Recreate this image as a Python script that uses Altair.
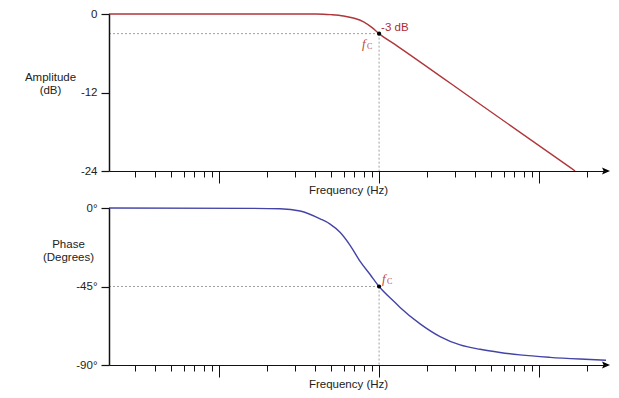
import altair as alt
import pandas as pd

# ---------------- data ----------------
FMIN, FMAX = 0.0205, 26.2

freq_amp = [0.0205, 0.40, 0.45, 0.5, 0.6, 0.7, 0.8, 0.9, 1.0, 1.3, 4.28, 16.8]
amp_db = [0.0, 0.0, -0.03, -0.1, -0.3, -0.65, -1.2, -2.05, -3.0, -4.9, -13.8, -24.0]

freq_phase = [0.0205, 0.156, 0.240, 0.321, 0.428, 0.494, 0.570, 0.659, 0.761,
              0.879, 1.0, 1.259, 1.353, 1.804, 2.405, 3.21, 4.28, 5.70, 7.60,
              11.7, 18.0, 26.2]
phase_deg = [0.0, -0.2, -0.4, -1.7, -6.2, -9.2, -13.9, -21.4, -30.6,
             -38.1, -45.0, -54.2, -57.0, -66.4, -73.7, -78.5, -81.0, -82.8, -84.2,
             -85.6, -86.6, -87.3]

x_ticks = [0.03, 0.04, 0.05, 0.06, 0.07, 0.08, 0.09, 0.1,
           0.2, 0.3, 0.4, 0.5, 0.6, 0.7, 0.8, 0.9, 1,
           2, 3, 4, 5, 6, 7, 8, 9, 10, 20]
amp_ticks = [0, -12, -24]
phase_ticks = [0, -45, -90]

fc = 1.0
amp_cut = -3.0
phase_cut = -45.0
amp_min = -24
phase_min = -90

# ---------------- styles ----------------
RED = "#b0363a"
RED_TXT = "#b02a2e"
FC_RED = "#c04848"
BLUE = "#4444a8"
FONT = "Liberation Sans"
SERIF = "Liberation Serif"
TXT = "#222222"
AXIS = "#111111"
W, H = 497, 157

major_test = "abs(log(datum.value)/LN10 - round(log(datum.value)/LN10)) < 0.001"


def x_enc():
    return alt.X(
        "f:Q",
        scale=alt.Scale(type="log", domain=[FMIN, FMAX], nice=False),
        axis=alt.Axis(
            values=x_ticks, labels=False, grid=False, domain=True, ticks=True,
            zindex=1,
            tickSize={"condition": {"test": major_test, "value": 12}, "value": 6},
            tickColor=AXIS, domainColor=AXIS, tickWidth=1, domainWidth=1,
            title="Frequency (Hz)", titleX=239, titleY=19, titleBaseline="middle",
            titleAlign="center", titleFontWeight="normal", titleFontSize=11.5,
            titleFont=FONT, titleColor=TXT,
        ),
    )


def y_enc(ymin, ticks, suffix, title, tx, ty):
    return alt.Y(
        "v:Q",
        scale=alt.Scale(domain=[ymin, 0], nice=False),
        axis=alt.Axis(
            values=ticks, labelExpr="datum.value + '" + suffix + "'",
            domain=True, ticks=True, zindex=1,
            tickSize=8, labelPadding=4, labelFontSize=11.5, labelFont=FONT,
            labelColor=TXT, domainColor=AXIS, tickColor=AXIS, grid=False,
            domainWidth=1.5, tickWidth=1.2,
            title=title, titleAngle=0, titleAlign="center", titleBaseline="top",
            titleX=tx, titleY=ty, titleFontWeight="normal", titleFontSize=11.5,
            titleLineHeight=13, titleFont=FONT, titleColor=TXT,
        ),
    )


def panel(cf, cv, color, ymin, ticks, suffix, title, tx, ty, cut, extra_text, fc_dx, fc_dy):
    X = x_enc()
    Y = y_enc(ymin, ticks, suffix, title, tx, ty)
    curve = alt.Chart(pd.DataFrame({"f": cf, "v": cv})).mark_line(
        color=color, strokeWidth=1.4, interpolate="monotone"
    ).encode(x=X, y=Y)
    hline = alt.Chart(pd.DataFrame({"f": [FMIN], "f2": [fc], "v": [cut]})).mark_rule(
        color="#a0a0a0", strokeDash=[2, 2], strokeWidth=1
    ).encode(x=X, x2="f2:Q", y=Y)
    vline = alt.Chart(pd.DataFrame({"f": [fc], "v": [cut], "v2": [ymin]})).mark_rule(
        color="#a0a0a0", strokeDash=[2, 2], strokeWidth=1
    ).encode(x=X, y=Y, y2="v2:Q")
    pt_df = pd.DataFrame({"f": [fc], "v": [cut]})
    dot = alt.Chart(pt_df).mark_circle(size=18, color="black", opacity=1).encode(x=X, y=Y)
    f_txt = alt.Chart(pt_df).mark_text(
        text="f", font=SERIF, fontStyle="italic", fontSize=13, color=FC_RED,
        align="left", baseline="alphabetic", dx=fc_dx, dy=fc_dy
    ).encode(x=X, y=Y)
    c_txt = alt.Chart(pt_df).mark_text(
        text="C", font=SERIF, fontSize=8, color=FC_RED,
        align="left", baseline="alphabetic", dx=fc_dx + 5, dy=fc_dy + 1
    ).encode(x=X, y=Y)
    arrow = alt.Chart(pd.DataFrame({"f": [FMAX], "v": [ymin]})).mark_point(
        shape="M-1,-0.9L1,0L-1,0.9L-0.6,0Z", filled=True, size=64,
        color="black", opacity=1
    ).encode(x=X, y=Y)
    layers = [hline, vline, curve, dot, f_txt, c_txt, arrow]
    if extra_text:
        lbl = alt.Chart(pt_df).mark_text(
            text=extra_text, font=FONT, fontSize=11.5, color=RED_TXT,
            align="left", baseline="alphabetic", dx=2, dy=-3
        ).encode(x=X, y=Y)
        layers.append(lbl)
    return alt.layer(*layers).properties(width=W, height=H)


top = panel(freq_amp, amp_db, RED, amp_min, amp_ticks, "",
            ["Amplitude", "(dB)"], -59, 57, amp_cut, "-3 dB", -17, 14)
bottom = panel(freq_phase, phase_deg, BLUE, phase_min, phase_ticks, "°",
               ["Phase", "(Degrees)"], -41, 30, phase_cut, None, 3, -4)

chart = alt.vconcat(top, bottom, spacing=6).properties(
    padding={"left": 16, "top": 0, "right": 0, "bottom": 0},
    background="white",
).configure_view(stroke=None)

chart.save("out.html", embed_options={"renderer": "svg", "actions": False})
